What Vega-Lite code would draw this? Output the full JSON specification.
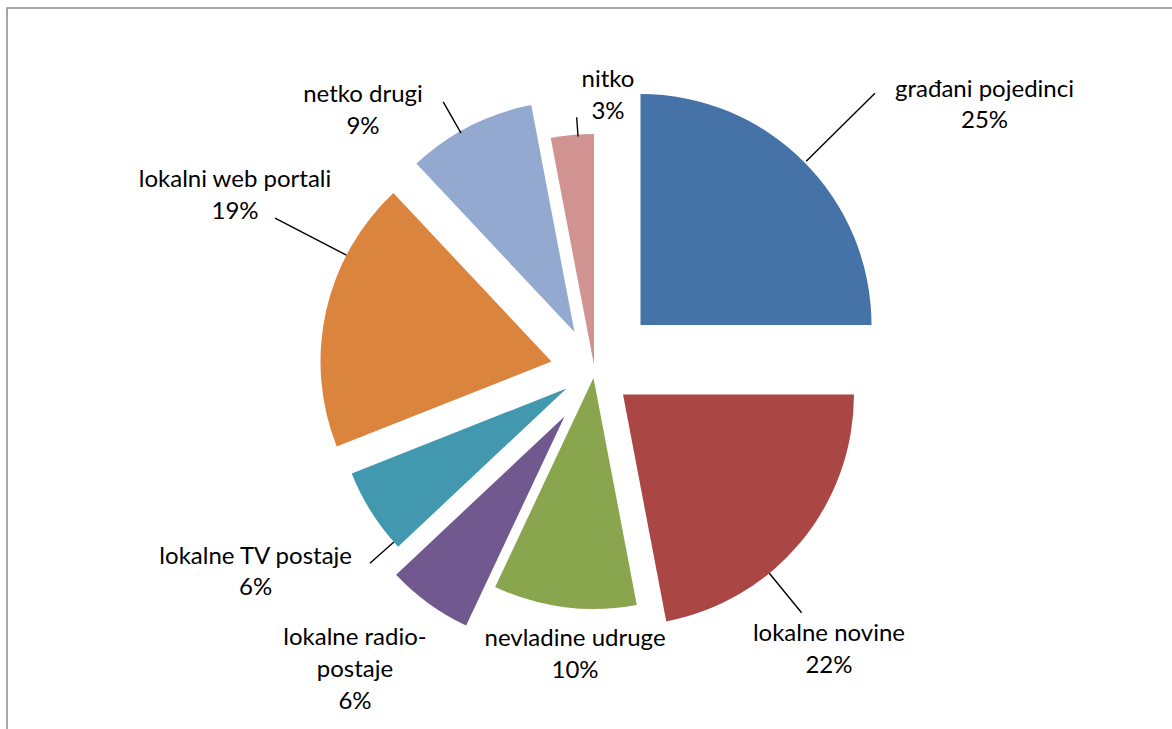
{
  "$schema": "https://vega.github.io/schema/vega-lite/v6.json",
  "width": 1165,
  "height": 721,
  "autosize": {"type": "none"},
  "padding": {"left": 7, "top": 8, "right": 0, "bottom": 0},
  "background": "#ffffff",
  "config": {
    "view": {"stroke": null},
    "font": "Lato",
    "text": {"font": "Lato", "fontSize": 24, "color": "#000000", "align": "center", "baseline": "middle", "lineBreak": "\n", "lineHeight": 31.7}
  },
  "data": {
    "values": [
      {"order": 1, "category": "građani pojedinci", "label": "građani pojedinci", "value": 0.25},
      {"order": 2, "category": "lokalne novine", "label": "lokalne novine", "value": 0.22},
      {"order": 3, "category": "nevladine udruge", "label": "nevladine udruge", "value": 0.10},
      {"order": 4, "category": "lokalne radio-postaje", "label": "lokalne radio-\npostaje", "value": 0.06},
      {"order": 5, "category": "lokalne TV postaje", "label": "lokalne TV postaje", "value": 0.06},
      {"order": 6, "category": "lokalni web portali", "label": "lokalni web portali", "value": 0.19},
      {"order": 7, "category": "netko drugi", "label": "netko drugi", "value": 0.09},
      {"order": 8, "category": "nitko", "label": "nitko", "value": 0.03}
    ]
  },
  "transform": [
    {"stack": "value", "groupby": [], "sort": [{"field": "order", "order": "ascending"}], "as": ["v0", "v1"]}
  ],
  "layer": [
    {
      "transform": [{"filter": "datum.order === 1"}],
      "mark": {"type": "rect", "filled": false, "stroke": "#8a8a8a", "strokeWidth": 1.5, "strokeDash": [1165, 1886, 722, 0]},
      "encoding": {}
    },
    {
      "transform": [{"filter": "datum.order === 1"}],
      "layer": [
        {"mark": {"type": "arc", "outerRadius": 231, "xOffset": 51, "yOffset": -43.5},
         "encoding": {"theta": {"field": "v0", "type": "quantitative", "scale": {"domain": [0, 1]}}, "theta2": {"field": "v1"},
           "color": {"field": "category", "type": "nominal", "legend": null, "scale": {"domain": ["građani pojedinci", "lokalne novine", "nevladine udruge", "lokalne radio-postaje", "lokalne TV postaje", "lokalni web portali", "netko drugi", "nitko"], "range": ["#4572A7", "#AA4643", "#89A54E", "#71588F", "#4198AF", "#DB843D", "#93A9CF", "#D19392"]}}}},
        {"mark": {"type": "arc", "innerRadius": 233, "outerRadius": 329.6, "thetaOffset": 0.7913, "theta2Offset": 0.7913, "xOffset": 51, "yOffset": -43.5, "filled": false, "stroke": "#000000", "strokeWidth": 1.4},
         "encoding": {"theta": {"field": "v0", "type": "quantitative", "scale": {"domain": [0, 1]}}, "theta2": {"field": "v0"}}},
        {"mark": {"type": "text", "radius": 474.5, "thetaOffset": 0.9835, "dy": -15.85},
         "encoding": {"theta": {"field": "v0", "type": "quantitative", "stack": null, "scale": {"domain": [0, 1]}}, "text": {"field": "label"}}},
        {"mark": {"type": "text", "radius": 474.5, "thetaOffset": 0.9835, "dy": 15.85},
         "encoding": {"theta": {"field": "v0", "type": "quantitative", "stack": null, "scale": {"domain": [0, 1]}}, "text": {"field": "value", "format": ".0%"}}}
      ]
    },
    {
      "transform": [{"filter": "datum.order === 2"}],
      "layer": [
        {"mark": {"type": "arc", "outerRadius": 231, "xOffset": 33.5, "yOffset": 26},
         "encoding": {"theta": {"field": "v0", "type": "quantitative", "scale": {"domain": [0, 1]}}, "theta2": {"field": "v1"},
           "color": {"field": "category", "type": "nominal", "legend": null}}},
        {"mark": {"type": "arc", "innerRadius": 231, "outerRadius": 282, "thetaOffset": 0.8849, "theta2Offset": 0.8849, "xOffset": 33.5, "yOffset": 26, "filled": false, "stroke": "#000000", "strokeWidth": 1.4},
         "encoding": {"theta": {"field": "v0", "type": "quantitative", "scale": {"domain": [0, 1]}}, "theta2": {"field": "v0"}}},
        {"mark": {"type": "text", "radius": 369.7, "thetaOffset": 0.8662, "dy": -15.85},
         "encoding": {"theta": {"field": "v0", "type": "quantitative", "stack": null, "scale": {"domain": [0, 1]}}, "text": {"field": "label"}}},
        {"mark": {"type": "text", "radius": 369.7, "thetaOffset": 0.8662, "dy": 15.85},
         "encoding": {"theta": {"field": "v0", "type": "quantitative", "stack": null, "scale": {"domain": [0, 1]}}, "text": {"field": "value", "format": ".0%"}}}
      ]
    },
    {
      "transform": [{"filter": "datum.order === 3"}],
      "layer": [
        {"mark": {"type": "arc", "outerRadius": 231, "xOffset": 4, "yOffset": 9.5},
         "encoding": {"theta": {"field": "v0", "type": "quantitative", "scale": {"domain": [0, 1]}}, "theta2": {"field": "v1"},
           "color": {"field": "category", "type": "nominal", "legend": null}}},
        {"mark": {"type": "text", "radius": 287.2, "thetaOffset": 0.2389, "dy": -15.85},
         "encoding": {"theta": {"field": "v0", "type": "quantitative", "stack": null, "scale": {"domain": [0, 1]}}, "text": {"field": "label"}}},
        {"mark": {"type": "text", "radius": 287.2, "thetaOffset": 0.2389, "dy": 15.85},
         "encoding": {"theta": {"field": "v0", "type": "quantitative", "stack": null, "scale": {"domain": [0, 1]}}, "text": {"field": "value", "format": ".0%"}}}
      ]
    },
    {
      "transform": [{"filter": "datum.order === 4"}],
      "layer": [
        {"mark": {"type": "arc", "outerRadius": 231, "xOffset": -25, "yOffset": 48},
         "encoding": {"theta": {"field": "v0", "type": "quantitative", "scale": {"domain": [0, 1]}}, "theta2": {"field": "v1"},
           "color": {"field": "category", "type": "nominal", "legend": null}}},
        {"mark": {"type": "text", "radius": 382, "thetaOffset": 0.2211, "dy": -31.7},
         "encoding": {"theta": {"field": "v0", "type": "quantitative", "stack": null, "scale": {"domain": [0, 1]}}, "text": {"field": "label"}}},
        {"mark": {"type": "text", "radius": 382, "thetaOffset": 0.2211, "dy": 31.7},
         "encoding": {"theta": {"field": "v0", "type": "quantitative", "stack": null, "scale": {"domain": [0, 1]}}, "text": {"field": "value", "format": ".0%"}}}
      ]
    },
    {
      "transform": [{"filter": "datum.order === 5"}],
      "layer": [
        {"mark": {"type": "arc", "outerRadius": 231, "xOffset": -23, "yOffset": 20},
         "encoding": {"theta": {"field": "v0", "type": "quantitative", "scale": {"domain": [0, 1]}}, "theta2": {"field": "v1"},
           "color": {"field": "category", "type": "nominal", "legend": null}}},
        {"mark": {"type": "arc", "innerRadius": 231, "outerRadius": 263, "thetaOffset": 0.0271, "theta2Offset": 0.0271, "xOffset": -23, "yOffset": 20, "filled": false, "stroke": "#000000", "strokeWidth": 1.4},
         "encoding": {"theta": {"field": "v0", "type": "quantitative", "scale": {"domain": [0, 1]}}, "theta2": {"field": "v0"}}},
        {"mark": {"type": "text", "radius": 391.2, "thetaOffset": 0.2054, "dy": -15.85},
         "encoding": {"theta": {"field": "v0", "type": "quantitative", "stack": null, "scale": {"domain": [0, 1]}}, "text": {"field": "label"}}},
        {"mark": {"type": "text", "radius": 391.2, "thetaOffset": 0.2054, "dy": 15.85},
         "encoding": {"theta": {"field": "v0", "type": "quantitative", "stack": null, "scale": {"domain": [0, 1]}}, "text": {"field": "value", "format": ".0%"}}}
      ]
    },
    {
      "transform": [{"filter": "datum.order === 6"}],
      "layer": [
        {"mark": {"type": "arc", "outerRadius": 231, "xOffset": -38, "yOffset": -7},
         "encoding": {"theta": {"field": "v0", "type": "quantitative", "scale": {"domain": [0, 1]}}, "theta2": {"field": "v1"},
           "color": {"field": "category", "type": "nominal", "legend": null}}},
        {"mark": {"type": "arc", "innerRadius": 231, "outerRadius": 311.4, "thetaOffset": 0.8552, "theta2Offset": 0.8552, "xOffset": -38, "yOffset": -7, "filled": false, "stroke": "#000000", "strokeWidth": 1.4},
         "encoding": {"theta": {"field": "v0", "type": "quantitative", "scale": {"domain": [0, 1]}}, "theta2": {"field": "v0"}}},
        {"mark": {"type": "text", "radius": 394.3, "thetaOffset": 0.8303, "dy": -15.85},
         "encoding": {"theta": {"field": "v0", "type": "quantitative", "stack": null, "scale": {"domain": [0, 1]}}, "text": {"field": "label"}}},
        {"mark": {"type": "text", "radius": 394.3, "thetaOffset": 0.8303, "dy": 15.85},
         "encoding": {"theta": {"field": "v0", "type": "quantitative", "stack": null, "scale": {"domain": [0, 1]}}, "text": {"field": "value", "format": ".0%"}}}
      ]
    },
    {
      "transform": [{"filter": "datum.order === 7"}],
      "layer": [
        {"mark": {"type": "arc", "outerRadius": 231, "xOffset": -15, "yOffset": -36.5},
         "encoding": {"theta": {"field": "v0", "type": "quantitative", "scale": {"domain": [0, 1]}}, "theta2": {"field": "v1"},
           "color": {"field": "category", "type": "nominal", "legend": null}}},
        {"mark": {"type": "arc", "innerRadius": 229, "outerRadius": 265, "thetaOffset": 0.2356, "theta2Offset": 0.2356, "xOffset": -15, "yOffset": -36.5, "filled": false, "stroke": "#000000", "strokeWidth": 1.4},
         "encoding": {"theta": {"field": "v0", "type": "quantitative", "scale": {"domain": [0, 1]}}, "theta2": {"field": "v0"}}},
        {"mark": {"type": "text", "radius": 342.7, "thetaOffset": 0.0319, "dy": -15.85},
         "encoding": {"theta": {"field": "v0", "type": "quantitative", "stack": null, "scale": {"domain": [0, 1]}}, "text": {"field": "label"}}},
        {"mark": {"type": "text", "radius": 342.7, "thetaOffset": 0.0319, "dy": 15.85},
         "encoding": {"theta": {"field": "v0", "type": "quantitative", "stack": null, "scale": {"domain": [0, 1]}}, "text": {"field": "value", "format": ".0%"}}}
      ]
    },
    {
      "transform": [{"filter": "datum.order === 8"}],
      "layer": [
        {"mark": {"type": "arc", "outerRadius": 231, "xOffset": 4.5, "yOffset": -3.5},
         "encoding": {"theta": {"field": "v0", "type": "quantitative", "scale": {"domain": [0, 1]}}, "theta2": {"field": "v1"},
           "color": {"field": "category", "type": "nominal", "legend": null}}},
        {"mark": {"type": "arc", "innerRadius": 229, "outerRadius": 248.3, "thetaOffset": 0.1187, "theta2Offset": 0.1187, "xOffset": 4.5, "yOffset": -3.5, "filled": false, "stroke": "#000000", "strokeWidth": 1.4},
         "encoding": {"theta": {"field": "v0", "type": "quantitative", "scale": {"domain": [0, 1]}}, "theta2": {"field": "v0"}}},
        {"mark": {"type": "text", "radius": 273.3, "thetaOffset": 0.2562, "dy": -15.85},
         "encoding": {"theta": {"field": "v0", "type": "quantitative", "stack": null, "scale": {"domain": [0, 1]}}, "text": {"field": "label"}}},
        {"mark": {"type": "text", "radius": 273.3, "thetaOffset": 0.2562, "dy": 15.85},
         "encoding": {"theta": {"field": "v0", "type": "quantitative", "stack": null, "scale": {"domain": [0, 1]}}, "text": {"field": "value", "format": ".0%"}}}
      ]
    }
  ]
}
